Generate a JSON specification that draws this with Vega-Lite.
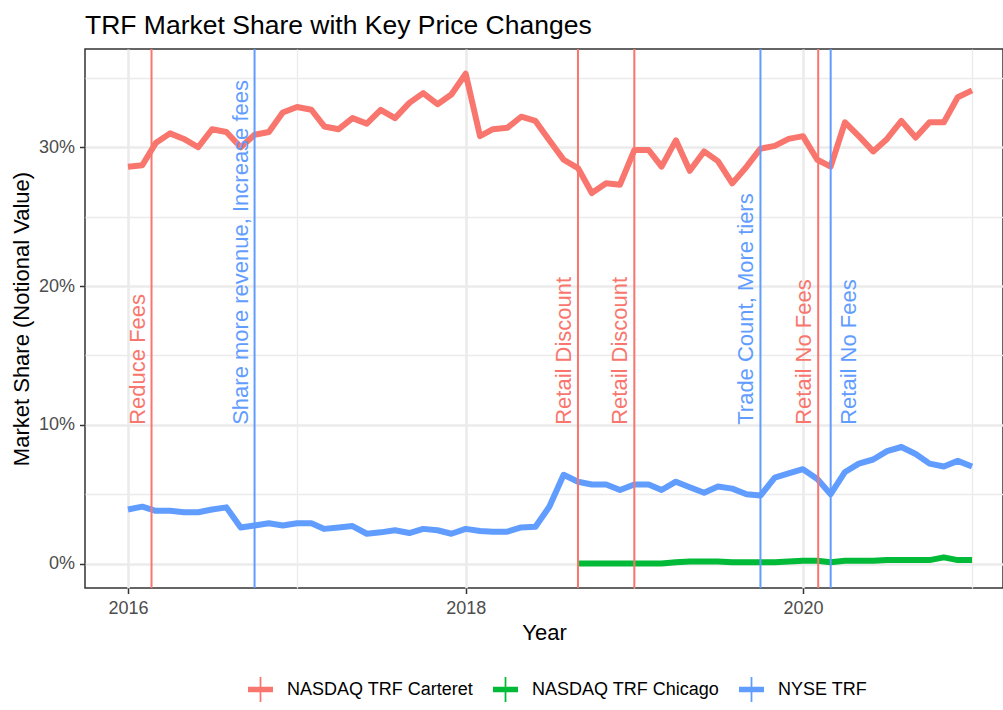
{
  "$schema": "https://vega.github.io/schema/vega-lite/v6.json",
  "width": 918,
  "height": 539,
  "autosize": {"type": "none"},
  "padding": {"left": 85, "top": 49, "right": 0, "bottom": 122},
  "background": "white",
  "title": {
    "text": "TRF Market Share with Key Price Changes",
    "anchor": "start",
    "frame": "group",
    "fontSize": 26.5,
    "font": "Liberation Sans",
    "fontWeight": "normal",
    "color": "#000000",
    "offset": 16,
    "dy": 28,
    "baseline": "alphabetic"
  },
  "datasets": {
    "series": [
      {"date": "2016-01-01", "exchange": "NASDAQ TRF Carteret", "share": 28.6},
      {"date": "2016-02-01", "exchange": "NASDAQ TRF Carteret", "share": 28.7},
      {"date": "2016-03-01", "exchange": "NASDAQ TRF Carteret", "share": 30.3},
      {"date": "2016-04-01", "exchange": "NASDAQ TRF Carteret", "share": 31.0},
      {"date": "2016-05-01", "exchange": "NASDAQ TRF Carteret", "share": 30.6},
      {"date": "2016-06-01", "exchange": "NASDAQ TRF Carteret", "share": 30.0},
      {"date": "2016-07-01", "exchange": "NASDAQ TRF Carteret", "share": 31.3},
      {"date": "2016-08-01", "exchange": "NASDAQ TRF Carteret", "share": 31.1},
      {"date": "2016-09-01", "exchange": "NASDAQ TRF Carteret", "share": 30.0},
      {"date": "2016-10-01", "exchange": "NASDAQ TRF Carteret", "share": 30.9},
      {"date": "2016-11-01", "exchange": "NASDAQ TRF Carteret", "share": 31.1},
      {"date": "2016-12-01", "exchange": "NASDAQ TRF Carteret", "share": 32.5},
      {"date": "2017-01-01", "exchange": "NASDAQ TRF Carteret", "share": 32.9},
      {"date": "2017-02-01", "exchange": "NASDAQ TRF Carteret", "share": 32.7},
      {"date": "2017-03-01", "exchange": "NASDAQ TRF Carteret", "share": 31.5},
      {"date": "2017-04-01", "exchange": "NASDAQ TRF Carteret", "share": 31.3},
      {"date": "2017-05-01", "exchange": "NASDAQ TRF Carteret", "share": 32.1},
      {"date": "2017-06-01", "exchange": "NASDAQ TRF Carteret", "share": 31.7},
      {"date": "2017-07-01", "exchange": "NASDAQ TRF Carteret", "share": 32.7},
      {"date": "2017-08-01", "exchange": "NASDAQ TRF Carteret", "share": 32.1},
      {"date": "2017-09-01", "exchange": "NASDAQ TRF Carteret", "share": 33.2},
      {"date": "2017-10-01", "exchange": "NASDAQ TRF Carteret", "share": 33.9},
      {"date": "2017-11-01", "exchange": "NASDAQ TRF Carteret", "share": 33.1},
      {"date": "2017-12-01", "exchange": "NASDAQ TRF Carteret", "share": 33.8},
      {"date": "2018-01-01", "exchange": "NASDAQ TRF Carteret", "share": 35.3},
      {"date": "2018-02-01", "exchange": "NASDAQ TRF Carteret", "share": 30.8},
      {"date": "2018-03-01", "exchange": "NASDAQ TRF Carteret", "share": 31.3},
      {"date": "2018-04-01", "exchange": "NASDAQ TRF Carteret", "share": 31.4},
      {"date": "2018-05-01", "exchange": "NASDAQ TRF Carteret", "share": 32.2},
      {"date": "2018-06-01", "exchange": "NASDAQ TRF Carteret", "share": 31.9},
      {"date": "2018-07-01", "exchange": "NASDAQ TRF Carteret", "share": 30.5},
      {"date": "2018-08-01", "exchange": "NASDAQ TRF Carteret", "share": 29.1},
      {"date": "2018-09-01", "exchange": "NASDAQ TRF Carteret", "share": 28.5},
      {"date": "2018-10-01", "exchange": "NASDAQ TRF Carteret", "share": 26.7},
      {"date": "2018-11-01", "exchange": "NASDAQ TRF Carteret", "share": 27.4},
      {"date": "2018-12-01", "exchange": "NASDAQ TRF Carteret", "share": 27.3},
      {"date": "2019-01-01", "exchange": "NASDAQ TRF Carteret", "share": 29.8},
      {"date": "2019-02-01", "exchange": "NASDAQ TRF Carteret", "share": 29.8},
      {"date": "2019-03-01", "exchange": "NASDAQ TRF Carteret", "share": 28.6},
      {"date": "2019-04-01", "exchange": "NASDAQ TRF Carteret", "share": 30.5},
      {"date": "2019-05-01", "exchange": "NASDAQ TRF Carteret", "share": 28.3},
      {"date": "2019-06-01", "exchange": "NASDAQ TRF Carteret", "share": 29.7},
      {"date": "2019-07-01", "exchange": "NASDAQ TRF Carteret", "share": 29.0},
      {"date": "2019-08-01", "exchange": "NASDAQ TRF Carteret", "share": 27.4},
      {"date": "2019-09-01", "exchange": "NASDAQ TRF Carteret", "share": 28.6},
      {"date": "2019-10-01", "exchange": "NASDAQ TRF Carteret", "share": 29.9},
      {"date": "2019-11-01", "exchange": "NASDAQ TRF Carteret", "share": 30.1},
      {"date": "2019-12-01", "exchange": "NASDAQ TRF Carteret", "share": 30.6},
      {"date": "2020-01-01", "exchange": "NASDAQ TRF Carteret", "share": 30.8},
      {"date": "2020-02-01", "exchange": "NASDAQ TRF Carteret", "share": 29.1},
      {"date": "2020-03-01", "exchange": "NASDAQ TRF Carteret", "share": 28.6},
      {"date": "2020-04-01", "exchange": "NASDAQ TRF Carteret", "share": 31.8},
      {"date": "2020-05-01", "exchange": "NASDAQ TRF Carteret", "share": 30.8},
      {"date": "2020-06-01", "exchange": "NASDAQ TRF Carteret", "share": 29.7},
      {"date": "2020-07-01", "exchange": "NASDAQ TRF Carteret", "share": 30.6},
      {"date": "2020-08-01", "exchange": "NASDAQ TRF Carteret", "share": 31.9},
      {"date": "2020-09-01", "exchange": "NASDAQ TRF Carteret", "share": 30.7},
      {"date": "2020-10-01", "exchange": "NASDAQ TRF Carteret", "share": 31.8},
      {"date": "2020-11-01", "exchange": "NASDAQ TRF Carteret", "share": 31.8},
      {"date": "2020-12-01", "exchange": "NASDAQ TRF Carteret", "share": 33.6},
      {"date": "2021-01-01", "exchange": "NASDAQ TRF Carteret", "share": 34.1},
      {"date": "2018-09-01", "exchange": "NASDAQ TRF Chicago", "share": 0.0},
      {"date": "2018-10-01", "exchange": "NASDAQ TRF Chicago", "share": 0.0},
      {"date": "2018-11-01", "exchange": "NASDAQ TRF Chicago", "share": 0.0},
      {"date": "2018-12-01", "exchange": "NASDAQ TRF Chicago", "share": 0.0},
      {"date": "2019-01-01", "exchange": "NASDAQ TRF Chicago", "share": 0.0},
      {"date": "2019-02-01", "exchange": "NASDAQ TRF Chicago", "share": 0.0},
      {"date": "2019-03-01", "exchange": "NASDAQ TRF Chicago", "share": 0.0},
      {"date": "2019-04-01", "exchange": "NASDAQ TRF Chicago", "share": 0.1},
      {"date": "2019-05-01", "exchange": "NASDAQ TRF Chicago", "share": 0.15},
      {"date": "2019-06-01", "exchange": "NASDAQ TRF Chicago", "share": 0.15},
      {"date": "2019-07-01", "exchange": "NASDAQ TRF Chicago", "share": 0.15},
      {"date": "2019-08-01", "exchange": "NASDAQ TRF Chicago", "share": 0.1},
      {"date": "2019-09-01", "exchange": "NASDAQ TRF Chicago", "share": 0.1},
      {"date": "2019-10-01", "exchange": "NASDAQ TRF Chicago", "share": 0.1},
      {"date": "2019-11-01", "exchange": "NASDAQ TRF Chicago", "share": 0.1},
      {"date": "2019-12-01", "exchange": "NASDAQ TRF Chicago", "share": 0.15},
      {"date": "2020-01-01", "exchange": "NASDAQ TRF Chicago", "share": 0.2},
      {"date": "2020-02-01", "exchange": "NASDAQ TRF Chicago", "share": 0.2},
      {"date": "2020-03-01", "exchange": "NASDAQ TRF Chicago", "share": 0.1},
      {"date": "2020-04-01", "exchange": "NASDAQ TRF Chicago", "share": 0.2},
      {"date": "2020-05-01", "exchange": "NASDAQ TRF Chicago", "share": 0.2},
      {"date": "2020-06-01", "exchange": "NASDAQ TRF Chicago", "share": 0.2},
      {"date": "2020-07-01", "exchange": "NASDAQ TRF Chicago", "share": 0.25},
      {"date": "2020-08-01", "exchange": "NASDAQ TRF Chicago", "share": 0.25},
      {"date": "2020-09-01", "exchange": "NASDAQ TRF Chicago", "share": 0.25},
      {"date": "2020-10-01", "exchange": "NASDAQ TRF Chicago", "share": 0.25},
      {"date": "2020-11-01", "exchange": "NASDAQ TRF Chicago", "share": 0.45},
      {"date": "2020-12-01", "exchange": "NASDAQ TRF Chicago", "share": 0.25},
      {"date": "2021-01-01", "exchange": "NASDAQ TRF Chicago", "share": 0.25},
      {"date": "2016-01-01", "exchange": "NYSE TRF", "share": 3.9},
      {"date": "2016-02-01", "exchange": "NYSE TRF", "share": 4.1},
      {"date": "2016-03-01", "exchange": "NYSE TRF", "share": 3.8},
      {"date": "2016-04-01", "exchange": "NYSE TRF", "share": 3.8},
      {"date": "2016-05-01", "exchange": "NYSE TRF", "share": 3.7},
      {"date": "2016-06-01", "exchange": "NYSE TRF", "share": 3.7},
      {"date": "2016-07-01", "exchange": "NYSE TRF", "share": 3.9},
      {"date": "2016-08-01", "exchange": "NYSE TRF", "share": 4.05},
      {"date": "2016-09-01", "exchange": "NYSE TRF", "share": 2.6},
      {"date": "2016-10-01", "exchange": "NYSE TRF", "share": 2.75},
      {"date": "2016-11-01", "exchange": "NYSE TRF", "share": 2.9},
      {"date": "2016-12-01", "exchange": "NYSE TRF", "share": 2.75},
      {"date": "2017-01-01", "exchange": "NYSE TRF", "share": 2.9},
      {"date": "2017-02-01", "exchange": "NYSE TRF", "share": 2.9},
      {"date": "2017-03-01", "exchange": "NYSE TRF", "share": 2.5},
      {"date": "2017-04-01", "exchange": "NYSE TRF", "share": 2.6},
      {"date": "2017-05-01", "exchange": "NYSE TRF", "share": 2.7},
      {"date": "2017-06-01", "exchange": "NYSE TRF", "share": 2.15},
      {"date": "2017-07-01", "exchange": "NYSE TRF", "share": 2.25},
      {"date": "2017-08-01", "exchange": "NYSE TRF", "share": 2.4},
      {"date": "2017-09-01", "exchange": "NYSE TRF", "share": 2.2},
      {"date": "2017-10-01", "exchange": "NYSE TRF", "share": 2.5},
      {"date": "2017-11-01", "exchange": "NYSE TRF", "share": 2.4},
      {"date": "2017-12-01", "exchange": "NYSE TRF", "share": 2.15},
      {"date": "2018-01-01", "exchange": "NYSE TRF", "share": 2.5},
      {"date": "2018-02-01", "exchange": "NYSE TRF", "share": 2.35},
      {"date": "2018-03-01", "exchange": "NYSE TRF", "share": 2.3},
      {"date": "2018-04-01", "exchange": "NYSE TRF", "share": 2.3},
      {"date": "2018-05-01", "exchange": "NYSE TRF", "share": 2.6},
      {"date": "2018-06-01", "exchange": "NYSE TRF", "share": 2.65},
      {"date": "2018-07-01", "exchange": "NYSE TRF", "share": 4.1},
      {"date": "2018-08-01", "exchange": "NYSE TRF", "share": 6.4},
      {"date": "2018-09-01", "exchange": "NYSE TRF", "share": 5.9},
      {"date": "2018-10-01", "exchange": "NYSE TRF", "share": 5.7},
      {"date": "2018-11-01", "exchange": "NYSE TRF", "share": 5.7},
      {"date": "2018-12-01", "exchange": "NYSE TRF", "share": 5.3},
      {"date": "2019-01-01", "exchange": "NYSE TRF", "share": 5.7},
      {"date": "2019-02-01", "exchange": "NYSE TRF", "share": 5.7},
      {"date": "2019-03-01", "exchange": "NYSE TRF", "share": 5.3},
      {"date": "2019-04-01", "exchange": "NYSE TRF", "share": 5.9},
      {"date": "2019-05-01", "exchange": "NYSE TRF", "share": 5.5},
      {"date": "2019-06-01", "exchange": "NYSE TRF", "share": 5.1},
      {"date": "2019-07-01", "exchange": "NYSE TRF", "share": 5.55},
      {"date": "2019-08-01", "exchange": "NYSE TRF", "share": 5.4},
      {"date": "2019-09-01", "exchange": "NYSE TRF", "share": 5.0},
      {"date": "2019-10-01", "exchange": "NYSE TRF", "share": 4.9},
      {"date": "2019-11-01", "exchange": "NYSE TRF", "share": 6.2},
      {"date": "2019-12-01", "exchange": "NYSE TRF", "share": 6.5},
      {"date": "2020-01-01", "exchange": "NYSE TRF", "share": 6.8},
      {"date": "2020-02-01", "exchange": "NYSE TRF", "share": 6.1},
      {"date": "2020-03-01", "exchange": "NYSE TRF", "share": 5.0},
      {"date": "2020-04-01", "exchange": "NYSE TRF", "share": 6.6},
      {"date": "2020-05-01", "exchange": "NYSE TRF", "share": 7.2},
      {"date": "2020-06-01", "exchange": "NYSE TRF", "share": 7.5},
      {"date": "2020-07-01", "exchange": "NYSE TRF", "share": 8.1},
      {"date": "2020-08-01", "exchange": "NYSE TRF", "share": 8.4},
      {"date": "2020-09-01", "exchange": "NYSE TRF", "share": 7.9},
      {"date": "2020-10-01", "exchange": "NYSE TRF", "share": 7.2},
      {"date": "2020-11-01", "exchange": "NYSE TRF", "share": 7.0},
      {"date": "2020-12-01", "exchange": "NYSE TRF", "share": 7.4},
      {"date": "2021-01-01", "exchange": "NYSE TRF", "share": 7.0}
    ],
    "events": [
      {"date": "2016-02-21", "exchange": "NASDAQ TRF Carteret", "label": "Reduce Fees", "side": "left"},
      {"date": "2016-10-01", "exchange": "NYSE TRF", "label": "Share more revenue, Increase fees", "side": "left"},
      {"date": "2018-09-01", "exchange": "NASDAQ TRF Carteret", "label": "Retail Discount", "side": "left"},
      {"date": "2019-01-01", "exchange": "NASDAQ TRF Carteret", "label": "Retail Discount", "side": "left"},
      {"date": "2019-10-01", "exchange": "NYSE TRF", "label": "Trade Count, More tiers", "side": "left"},
      {"date": "2020-02-03", "exchange": "NASDAQ TRF Carteret", "label": "Retail No Fees", "side": "left"},
      {"date": "2020-03-01", "exchange": "NYSE TRF", "label": "Retail No Fees", "side": "right"}
    ]
  },
  "layer": [
    {
      "data": {"name": "series"},
      "mark": {"type": "line", "strokeWidth": 6, "strokeJoin": "round", "strokeCap": "butt"},
      "encoding": {
        "x": {
          "field": "date",
          "type": "temporal",
          "scale": {
            "type": "utc",
            "domain": [
              {"year": 2015, "month": 9, "date": 30, "utc": true},
              {"year": 2021, "month": 3, "date": 9, "utc": true}
            ]
          },
          "axis": {
            "title": "Year",
            "values": [
              {"year": 2016, "month": 1, "date": 1, "utc": true},
              {"year": 2017, "month": 1, "date": 1, "utc": true},
              {"year": 2018, "month": 1, "date": 1, "utc": true},
              {"year": 2019, "month": 1, "date": 1, "utc": true},
              {"year": 2020, "month": 1, "date": 1, "utc": true},
              {"year": 2021, "month": 1, "date": 1, "utc": true}
            ],
            "labelExpr": "utcyear(datum.value) % 2 == 0 ? '' + utcyear(datum.value) : ''",
            "gridWidth": {"condition": {"test": "utcyear(datum.value) % 2 == 1", "value": 1.3}, "value": 2.6},
            "tickOpacity": {"condition": {"test": "utcyear(datum.value) % 2 == 1", "value": 0}, "value": 1},
            "labelPadding": 6,
            "titlePadding": 5,
            "labelOverlap": false,
            "labelFlush": false
          }
        },
        "y": {
          "field": "share",
          "type": "quantitative",
          "scale": {"domain": [-1.76, 37.08], "nice": false, "zero": false},
          "axis": {
            "title": "Market Share (Notional Value)",
            "values": [0, 5, 10, 15, 20, 25, 30, 35],
            "labelExpr": "datum.value % 10 == 0 ? datum.value + '%' : ''",
            "gridWidth": {"condition": {"test": "datum.value % 10 != 0", "value": 1.3}, "value": 2.6},
            "tickOpacity": {"condition": {"test": "datum.value % 10 != 0", "value": 0}, "value": 1},
            "labelPadding": 5,
            "titlePadding": 5,
            "labelOverlap": false
          }
        },
        "color": {
          "field": "exchange",
          "type": "nominal",
          "scale": {
            "domain": ["NASDAQ TRF Carteret", "NASDAQ TRF Chicago", "NYSE TRF"],
            "range": ["#F8766D", "#00BA38", "#619CFF"]
          },
          "legend": {
            "orient": "none",
            "direction": "horizontal",
            "legendX": 163,
            "legendY": 628,
            "title": null,
            "padding": 0,
            "symbolType": "M-1,-0.22H1V0.22H-1Z M-0.07,-1H0.07V1H-0.07Z",
            "symbolSize": 625,
            "symbolStrokeWidth": 0,
            "symbolOpacity": 1,
            "labelFont": "Liberation Sans",
            "labelFontSize": 18,
            "labelColor": "#000000",
            "labelOffset": 14,
            "labelLimit": 400,
            "columnPadding": 19,
            "encode": {
              "symbols": {
                "update": {
                  "fill": {"scale": "color", "field": "value"},
                  "strokeWidth": {"value": 0}
                }
              }
            }
          }
        }
      }
    },
    {
      "data": {"name": "events"},
      "mark": {"type": "rule", "strokeWidth": 2},
      "encoding": {
        "x": {"field": "date", "type": "temporal"},
        "color": {"field": "exchange", "type": "nominal"}
      }
    },
    {
      "data": {"name": "events"},
      "transform": [{"filter": "datum.side == 'left'"}],
      "mark": {
        "type": "text",
        "angle": 270,
        "align": "left",
        "baseline": "alphabetic",
        "dy": -7,
        "fontSize": 22,
        "font": "Liberation Sans"
      },
      "encoding": {
        "x": {"field": "date", "type": "temporal"},
        "y": {"datum": 10, "type": "quantitative"},
        "text": {"field": "label"},
        "color": {"field": "exchange", "type": "nominal"}
      }
    },
    {
      "data": {"name": "events"},
      "transform": [{"filter": "datum.side == 'right'"}],
      "mark": {
        "type": "text",
        "angle": 270,
        "align": "left",
        "baseline": "alphabetic",
        "dy": 25,
        "fontSize": 22,
        "font": "Liberation Sans"
      },
      "encoding": {
        "x": {"field": "date", "type": "temporal"},
        "y": {"datum": 10, "type": "quantitative"},
        "text": {"field": "label"},
        "color": {"field": "exchange", "type": "nominal"}
      }
    }
  ],
  "config": {
    "font": "Liberation Sans",
    "view": {"stroke": "#333333", "strokeWidth": 1.5},
    "axis": {
      "domain": false,
      "labelFont": "Liberation Sans",
      "labelFontSize": 18,
      "labelColor": "#4D4D4D",
      "titleFont": "Liberation Sans",
      "titleFontSize": 22,
      "titleFontWeight": "normal",
      "titleColor": "#000000",
      "tickColor": "#333333",
      "tickSize": 5.5,
      "tickWidth": 1.5,
      "gridColor": "#EBEBEB"
    }
  }
}
